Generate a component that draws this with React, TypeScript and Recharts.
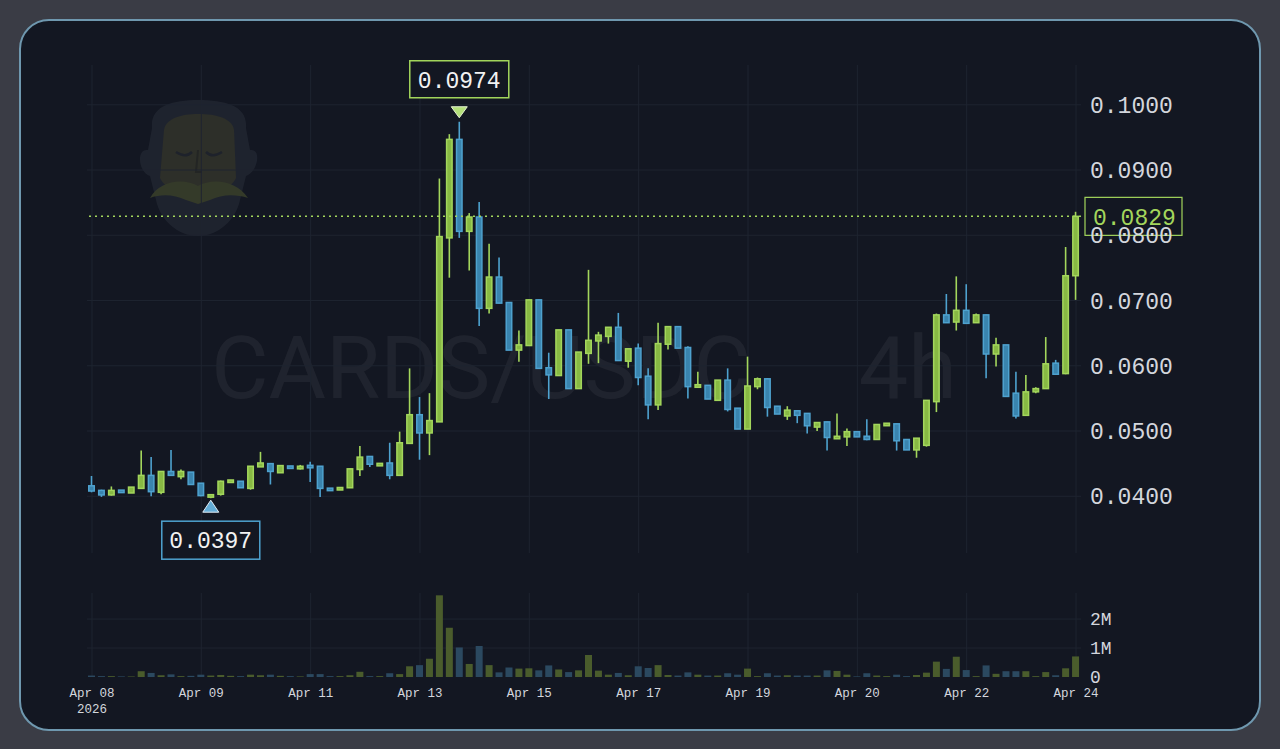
import React from "react";
import {
  Bar,
  CartesianGrid,
  Cell,
  ComposedChart,
  ReferenceLine,
  XAxis,
  YAxis,
} from "recharts";

// 4h candles, CARDS/USDC
const tickLabels = ["Apr 08", "Apr 09", "Apr 11", "Apr 13", "Apr 15", "Apr 17", "Apr 19", "Apr 20", "Apr 22", "Apr 24"];
const tickEvery = 11;
const yearLabel = "2026";

const opens = [
  0.0416, 0.0409, 0.0402, 0.0408, 0.0405, 0.0412, 0.0432, 0.0406, 0.0438, 0.043,
  0.0437, 0.042, 0.04, 0.0403, 0.0422, 0.0423, 0.0412, 0.0445, 0.045, 0.0436,
  0.0446, 0.0442, 0.0447, 0.0446, 0.0411, 0.041, 0.0413, 0.0441, 0.0461, 0.0448,
  0.0451, 0.0432, 0.0481, 0.0525, 0.0497, 0.0514, 0.0796, 0.0947, 0.0806, 0.0828,
  0.0688, 0.0736, 0.0697, 0.0624, 0.0631, 0.0701, 0.0597, 0.0585, 0.0655, 0.0565,
  0.0619, 0.0638, 0.0645, 0.0659, 0.0607, 0.0627, 0.0584, 0.054, 0.0633, 0.066,
  0.0628, 0.0567, 0.057, 0.0547, 0.0578, 0.0535, 0.0503, 0.0568, 0.058, 0.0538,
  0.0523, 0.0531, 0.0527, 0.0506, 0.0514, 0.0489, 0.0491, 0.0499, 0.0492, 0.0487,
  0.0509, 0.0511, 0.0487, 0.0471, 0.0478, 0.0545, 0.0678, 0.0667, 0.0685, 0.0666,
  0.0678, 0.0618, 0.0632, 0.0558, 0.0524, 0.056, 0.0565, 0.0604, 0.0588, 0.0738,
];
const highs = [
  0.0431, 0.041, 0.0415, 0.0409, 0.0414, 0.047, 0.046, 0.0438, 0.0471, 0.0441,
  0.0437, 0.042, 0.0403, 0.0424, 0.0425, 0.0423, 0.0446, 0.0468, 0.0451, 0.0447,
  0.0446, 0.0448, 0.0453, 0.0446, 0.0411, 0.0414, 0.0442, 0.0477, 0.0461, 0.045,
  0.0482, 0.0499, 0.0596, 0.0552, 0.0558, 0.0887, 0.0955, 0.0974, 0.0834, 0.0851,
  0.0787, 0.0766, 0.0697, 0.0654, 0.0701, 0.0701, 0.062, 0.0655, 0.0655, 0.0621,
  0.0747, 0.0652, 0.0659, 0.0681, 0.0626, 0.0634, 0.0596, 0.0666, 0.066, 0.066,
  0.063, 0.0591, 0.057, 0.0578, 0.0596, 0.0535, 0.0614, 0.0582, 0.0581, 0.0538,
  0.0538, 0.0531, 0.0527, 0.0513, 0.0514, 0.0527, 0.0504, 0.0499, 0.0518, 0.051,
  0.0511, 0.0511, 0.0487, 0.0489, 0.0547, 0.068, 0.071, 0.0737, 0.0725, 0.068,
  0.0678, 0.0643, 0.0632, 0.0591, 0.0586, 0.0567, 0.0644, 0.0609, 0.0782, 0.0836,
];
const lows = [
  0.0406, 0.0399, 0.0401, 0.0406, 0.0405, 0.0411, 0.04, 0.0403, 0.0432, 0.0426,
  0.0418, 0.04, 0.0397, 0.0401, 0.0421, 0.0413, 0.041, 0.0445, 0.0418, 0.0436,
  0.0442, 0.0441, 0.0422, 0.0399, 0.0409, 0.041, 0.0413, 0.0431, 0.0445, 0.0448,
  0.0426, 0.0432, 0.0481, 0.0456, 0.0463, 0.0514, 0.0735, 0.0796, 0.0746, 0.0661,
  0.068, 0.0696, 0.0624, 0.0606, 0.0631, 0.0596, 0.0549, 0.0585, 0.0565, 0.0565,
  0.0603, 0.0604, 0.0634, 0.0608, 0.0597, 0.057, 0.0518, 0.0532, 0.0625, 0.0627,
  0.055, 0.0567, 0.0549, 0.0547, 0.053, 0.0503, 0.0503, 0.0564, 0.0522, 0.0526,
  0.0517, 0.0512, 0.0496, 0.05, 0.047, 0.0488, 0.0477, 0.0491, 0.0486, 0.0487,
  0.0508, 0.047, 0.0471, 0.0459, 0.0476, 0.0529, 0.0666, 0.0654, 0.0664, 0.0666,
  0.0581, 0.0599, 0.0553, 0.0519, 0.0524, 0.0558, 0.0565, 0.0587, 0.0587, 0.0701,
];
const closes = [
  0.0408, 0.0402, 0.0409, 0.0407, 0.0414, 0.0432, 0.0407, 0.0438, 0.0432, 0.0438,
  0.0418, 0.0401, 0.0401, 0.0423, 0.0424, 0.0413, 0.0446, 0.0451, 0.0438, 0.0447,
  0.0443, 0.0446, 0.0444, 0.0412, 0.041, 0.0413, 0.0442, 0.046, 0.0449, 0.0449,
  0.0432, 0.0482, 0.0525, 0.0497, 0.0516, 0.0798, 0.0947, 0.0806, 0.0828, 0.0688,
  0.0736, 0.0696, 0.0624, 0.0632, 0.0701, 0.0596, 0.0586, 0.0655, 0.0565, 0.0621,
  0.0639, 0.0647, 0.0659, 0.0608, 0.0626, 0.0582, 0.054, 0.0634, 0.066, 0.0627,
  0.0568, 0.0571, 0.0549, 0.0578, 0.0533, 0.0503, 0.0569, 0.058, 0.0536, 0.0526,
  0.0532, 0.0524, 0.0508, 0.0513, 0.049, 0.0491, 0.0499, 0.0491, 0.0487, 0.051,
  0.0511, 0.0485, 0.0471, 0.0489, 0.0547, 0.0678, 0.0666, 0.0685, 0.0665, 0.0678,
  0.0618, 0.0632, 0.0553, 0.0523, 0.056, 0.0565, 0.0603, 0.0587, 0.0738, 0.0829,
];
// volume in millions
const volumes = [
  0.05, 0.03, 0.03, 0.02, 0.02, 0.2, 0.14, 0.06, 0.09, 0.03,
  0.04, 0.08, 0.05, 0.07, 0.04, 0.03, 0.08, 0.06, 0.08, 0.04,
  0.03, 0.02, 0.1, 0.1, 0.03, 0.03, 0.06, 0.18, 0.03, 0.03,
  0.13, 0.1, 0.37, 0.41, 0.63, 2.82, 1.7, 1.02, 0.45, 1.07,
  0.41, 0.16, 0.33, 0.29, 0.3, 0.23, 0.4, 0.26, 0.17, 0.23,
  0.76, 0.22, 0.08, 0.14, 0.06, 0.37, 0.31, 0.41, 0.07, 0.05,
  0.16, 0.08, 0.05, 0.05, 0.13, 0.08, 0.29, 0.03, 0.13, 0.05,
  0.06, 0.05, 0.05, 0.05, 0.23, 0.21, 0.08, 0.02, 0.13, 0.05,
  0.03, 0.08, 0.03, 0.07, 0.15, 0.53, 0.28, 0.7, 0.24, 0.03,
  0.4, 0.11, 0.2, 0.2, 0.2, 0.03, 0.17, 0.06, 0.3, 0.71,
];

const priceTicks = [0.04, 0.05, 0.06, 0.07, 0.08, 0.09, 0.1];
const volumeTicks = [0, 1, 2];
const volumeGrid = [1, 2];

const UP = "#a3d65c";
const UP_FILL = "#88b944";
const DOWN = "#4ea2cf";
const DOWN_FILL = "#3a84ae";
const VOL_UP = "#4a5c2c";
const VOL_DOWN = "#2b4960";
const BG = "#131722";
const GRID = "#1e2430";
const TEXT = "#d3d6dd";
const MONO = "'Liberation Mono', 'DejaVu Sans Mono', monospace";

const data = opens.map((o, i) => ({
  i,
  o,
  h: highs[i],
  l: lows[i],
  c: closes[i],
  v: volumes[i],
  range: [lows[i], highs[i]],
}));

const hiIdx = highs.indexOf(Math.max(...highs));
const loIdx = lows.indexOf(Math.min(...lows));
const last = closes[closes.length - 1];

function Candle(props: any) {
  const { x, y, width, height, payload } = props;
  const top = Math.min(y, y + height);
  const span = Math.abs(height);
  const { o, h, l, c, i } = payload;
  const px = (v: number) => top + ((h - v) / (h - l)) * span;
  const up = c >= o;
  const stroke = up ? UP : DOWN;
  const fill = up ? UP_FILL : DOWN_FILL;
  const cx = x + width / 2;
  let bt = px(Math.max(o, c));
  let bb = px(Math.min(o, c));
  if (bb - bt < 2.5) {
    const m = (bt + bb) / 2;
    bt = m - 1.25;
    bb = m + 1.25;
  }
  return (
    <g>
      <line x1={cx} x2={cx} y1={top} y2={top + span} stroke={stroke} strokeWidth={1.6} />
      <rect x={x + 0.75} y={bt} width={width - 1.5} height={bb - bt} fill={fill} stroke={stroke} strokeWidth={1.5} />
      {i === hiIdx && (
        <g>
          <path d={`M${cx - 8},${top - 15} L${cx + 8},${top - 15} L${cx},${top - 4} Z`} fill="#b3df7a" stroke="#e6f3d3" strokeWidth={1} />
          <rect x={cx - 49.5} y={top - 61} width={99} height={37} fill={BG} stroke={UP} strokeWidth={1.5} />
          <text x={cx} y={top - 42.5} dy="0.36em" textAnchor="middle" fill="#f2f2f2" fontSize={23} fontFamily={MONO}>
            {h.toFixed(4)}
          </text>
        </g>
      )}
      {i === loIdx && (
        <g>
          <path d={`M${cx - 8},${top + span + 14} L${cx + 8},${top + span + 14} L${cx},${top + span + 2} Z`} fill="#63acd6" stroke="#e2eef6" strokeWidth={1} />
          <rect x={cx - 49} y={top + span + 23} width={98} height={38} fill={BG} stroke={DOWN} strokeWidth={1.5} />
          <text x={cx} y={top + span + 42} dy="0.36em" textAnchor="middle" fill="#f2f2f2" fontSize={23} fontFamily={MONO}>
            {l.toFixed(4)}
          </text>
        </g>
      )}
    </g>
  );
}

function PriceTag(props: any) {
  const { viewBox } = props;
  if (!viewBox) return null;
  const x = viewBox.x + viewBox.width + 4;
  const y = viewBox.y;
  return (
    <g>
      <rect x={x} y={y - 19} width={97} height={38} fill={BG} stroke={UP} strokeWidth={1.2} />
      <text x={x + 8} y={y} dy="0.36em" fill={UP} fontSize={23} fontFamily={MONO}>
        {last.toFixed(4)}
      </text>
    </g>
  );
}

function EmptyTick() {
  return <g />;
}

function DateTick(props: any) {
  const { x, y, payload } = props;
  const k = Math.round(payload.value / tickEvery);
  return (
    <text x={x} y={y} textAnchor="middle" fill={TEXT} fontSize={12.5} fontFamily={MONO}>
      <tspan x={x} dy={12}>
        {tickLabels[k]}
      </tspan>
      {k === 0 && (
        <tspan x={x} dy={16}>
          {yearLabel}
        </tspan>
      )}
    </text>
  );
}

function Logo() {
  return (
    <g opacity={0.7}>
      <path d="M152,128 C150,106 172,100 198,100 C226,100 248,106 246,128 L250,150 C262,148 258,172 246,176 L240,200 C236,220 218,236 198,236 C178,236 160,220 156,200 L150,176 C138,172 136,148 148,150 Z" fill="#242934" />
      <path d="M164,130 C166,118 182,114 198,114 C216,114 232,118 234,130 L236,178 C230,190 214,196 198,196 C182,196 166,190 160,178 Z" fill="#393a2c" />
      <path d="M150,198 C160,180 184,178 198,186 C212,178 236,180 248,198 C236,194 222,194 210,200 L198,204 L186,200 C174,194 160,194 150,198 Z" fill="#434a2d" />
      <path d="M176,152 C182,156 188,156 192,152 M206,152 C210,156 216,156 222,152" stroke="#23272f" strokeWidth={2.5} fill="none" />
      <path d="M198,150 L196,172 L202,172" stroke="#2a2c26" strokeWidth={2} fill="none" />
    </g>
  );
}

export default function App() {
  return (
    <div style={{ position: "absolute", left: 0, top: 0, width: 1280, height: 749, background: "#3a3c45", overflow: "hidden" }}>
      <div
        style={{
          position: "absolute",
          left: 19,
          top: 19,
          width: 1242,
          height: 712,
          boxSizing: "border-box",
          border: "2px solid #6f98af",
          borderRadius: 30,
          background: BG,
        }}
      />
      <svg width={1280} height={749} style={{ position: "absolute", left: 0, top: 0 }}>
        <Logo />
        <text x={584} y={398} textAnchor="middle" fontSize={88} fontFamily="Roboto" fill="#ffffff" fillOpacity={0.055}>
          CARDS/USDC<tspan dx={108}>4h</tspan>
        </text>
      </svg>
      <div style={{ position: "absolute", left: 0, top: 0 }}>
        <ComposedChart width={1280} height={600} data={data} margin={{ top: 65, right: 89, bottom: 47, left: 87 }}>
          <CartesianGrid stroke={GRID} strokeWidth={1} syncWithTicks horizontalValues={priceTicks} />
          <XAxis dataKey="i" type="category" interval={10} height={0} axisLine={false} tickLine={false} tick={<EmptyTick />} />
          <YAxis
            orientation="right"
            width={110}
            domain={[0.0313, 0.1061]}
            ticks={priceTicks}
            axisLine={false}
            tickLine={false}
            tickSize={0}
            tickMargin={9}
            tickFormatter={(v: number) => v.toFixed(4)}
            tick={{ fill: TEXT, fontSize: 23, fontFamily: MONO }}
          />
          <Bar dataKey="range" barSize={7} isAnimationActive={false} shape={Candle} />
          <ReferenceLine y={last} stroke={UP} strokeWidth={1.5} strokeDasharray="2 4" label={<PriceTag />} />
        </ComposedChart>
      </div>
      <div style={{ position: "absolute", left: 0, top: 560 }}>
        <ComposedChart width={1280} height={160} data={data} margin={{ top: 33, right: 89, bottom: 0, left: 87 }}>
          <CartesianGrid stroke={GRID} strokeWidth={1} syncWithTicks horizontalValues={volumeGrid} />
          <XAxis
            dataKey="i"
            type="category"
            interval={10}
            height={43}
            axisLine={false}
            tickLine={false}
            tickSize={0}
            tickMargin={8}
            tick={<DateTick />}
          />
          <YAxis
            orientation="right"
            width={110}
            domain={[0, 2.9]}
            ticks={volumeTicks}
            axisLine={false}
            tickLine={false}
            tickSize={0}
            tickMargin={9}
            tickFormatter={(v: number) => (v === 0 ? "0" : `${v}M`)}
            tick={{ fill: TEXT, fontSize: 18, fontFamily: MONO }}
          />
          <Bar dataKey="v" barSize={7} isAnimationActive={false}>
            {data.map((d) => (
              <Cell key={`v-${d.i}`} fill={d.c >= d.o ? VOL_UP : VOL_DOWN} />
            ))}
          </Bar>
        </ComposedChart>
      </div>
    </div>
  );
}
